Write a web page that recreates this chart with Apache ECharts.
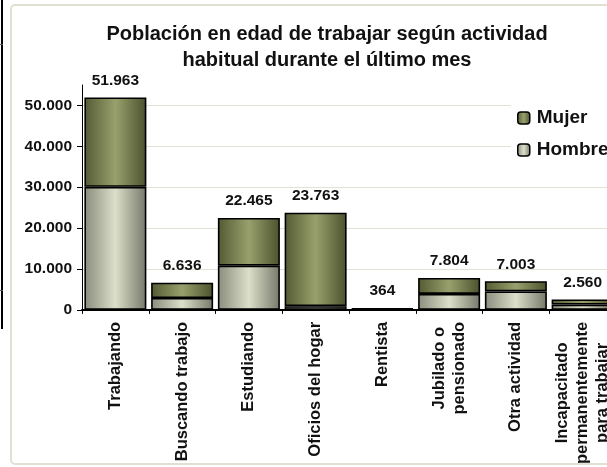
<!DOCTYPE html>
<html>
<head>
<meta charset="utf-8">
<script src="https://cdn.jsdelivr.net/npm/echarts@6/dist/echarts.min.js"></script>
<style>
  html, body { margin: 0; padding: 0; background: #ffffff; overflow: hidden; }
  /* the chart area runs on past the right edge of the page */
  #chart { width: 640px; height: 467px; }
</style>
</head>
<body>
<div id="chart"></div>
<script>
// Población en edad de trabajar, por actividad habitual y sexo
const categories = [
  'Trabajando',
  'Buscando trabajo',
  'Estudiando',
  'Oficios del hogar',
  'Rentista',
  'Jubilado o\npensionado',
  'Otra actividad',
  'Incapacitado\npermanentemente\npara trabajar'
];
const totals = [51963, 6636, 22465, 23763, 364, 7804, 7003, 2560];
const hombre = [30100, 2900, 10800, 900, 200, 3900, 4500, 1300];
const mujer  = [21863, 3736, 11665, 22863, 164, 3904, 2503, 1260];
const yTicks = [0, 10000, 20000, 30000, 40000, 50000];

const FONT = '"Liberation Sans", Arial, sans-serif';
const INK = '#111111';

function fmt(v) {
  return String(v).replace(/\B(?=(\d{3})+(?!\d))/g, '.');
}

function grad(stops) {
  return new echarts.graphic.LinearGradient(0, 0, 1, 0,
    stops.map(function (s) { return { offset: s[0], color: s[1] }; }));
}

const mujerFill = grad([[0, '#535a33'], [0.5, '#98a16d'], [1, '#4b512d']]);
const hombreFill = grad([[0, '#8a8c7d'], [0.5, '#dcdfc9'], [1, '#76786a']]);

const chart = echarts.init(document.getElementById('chart'), null, { renderer: 'canvas' });

chart.setOption({
  backgroundColor: '#ffffff',
  animation: false,
  title: {
    text: 'Población en edad de trabajar según actividad\nhabitual durante el último mes',
    left: 327,
    top: 21,
    textAlign: 'center',
    padding: 0,
    textStyle: {
      fontFamily: FONT,
      fontWeight: 'bold',
      fontSize: 20,
      lineHeight: 26,
      color: INK
    }
  },
  legend: {
    data: ['Mujer', 'Hombre'],
    orient: 'vertical',
    left: 511,
    top: 100,
    padding: [8, 6, 8, 6],
    itemGap: 12,
    itemWidth: 12,
    itemHeight: 12,
    backgroundColor: '#ffffff',
    selectedMode: false,
    itemStyle: { borderColor: '#000000', borderWidth: 1.5 },
    textStyle: {
      fontFamily: FONT,
      fontWeight: 'bold',
      fontSize: 19,
      lineHeight: 20,
      color: INK,
      padding: [0, 0, 0, 2]
    }
  },
  grid: {
    left: 82,
    top: 85,
    width: 534,
    height: 225,
    containLabel: false
  },
  xAxis: {
    type: 'category',
    data: categories,
    axisLine: { lineStyle: { color: '#000000', width: 2 } },
    axisTick: { show: true, length: 4, alignWithLabel: false, lineStyle: { color: '#000000' } },
    axisLabel: {
      interval: 0,
      rotate: 90,
      margin: 12,
      fontFamily: FONT,
      fontWeight: 'bold',
      fontSize: 16.5,
      lineHeight: 20,
      color: INK,
      formatter: function (v) {
        return v.split('\n').map(function (s) { return '{c|' + s + '}'; }).join('\n');
      },
      rich: {
        c: {
          align: 'center',
          fontFamily: FONT,
          fontWeight: 'bold',
          fontSize: 16.5,
          lineHeight: 20,
          color: INK
        }
      }
    },
    splitLine: { show: false }
  },
  yAxis: {
    type: 'value',
    min: 0,
    max: 55000,
    interval: 10000,
    axisLine: { show: true, lineStyle: { color: '#000000', width: 1 } },
    axisTick: { show: true, length: 5, inside: false, lineStyle: { color: '#000000' } },
    axisLabel: {
      showMaxLabel: false,
      margin: 10,
      fontFamily: FONT,
      fontWeight: 'bold',
      fontSize: 15.5,
      color: INK,
      formatter: function (v) { return yTicks.indexOf(v) >= 0 ? fmt(v) : ''; }
    },
    splitLine: {
      show: true,
      showMinLine: false,
      showMaxLine: false,
      lineStyle: { color: '#e2e2d4', width: 1 }
    }
  },
  series: [
    {
      name: 'Hombre',
      type: 'bar',
      stack: 'total',
      barWidth: 62,
      z: 3,
      data: hombre,
      itemStyle: { color: hombreFill, borderColor: '#000000', borderWidth: 1.6 },
      emphasis: { disabled: true }
    },
    {
      name: 'Mujer',
      type: 'bar',
      stack: 'total',
      barWidth: 62,
      z: 2,
      data: mujer,
      itemStyle: { color: mujerFill, borderColor: '#000000', borderWidth: 1.6 },
      emphasis: { disabled: true },
      label: {
        show: true,
        position: 'top',
        distance: 9,
        fontFamily: FONT,
        fontWeight: 'bold',
        fontSize: 15.5,
        color: INK,
        formatter: function (p) { return fmt(totals[p.dataIndex]); }
      }
    }
  ],
  graphic: [
    {
      type: 'rect',
      silent: true,
      z: -10,
      shape: { x: 11, y: 5, width: 640, height: 459, r: 4 },
      style: { fill: 'none', stroke: '#e0e0d3', lineWidth: 2 }
    },
    {
      type: 'rect',
      silent: true,
      shape: { x: 1, y: 0, width: 2, height: 329 },
      style: { fill: '#000000' }
    },
    {
      type: 'rect',
      silent: true,
      shape: { x: 0, y: 44, width: 3, height: 1 },
      style: { fill: '#555555' }
    },
    {
      type: 'rect',
      silent: true,
      shape: { x: 0, y: 290, width: 3, height: 1 },
      style: { fill: '#555555' }
    }
  ]
});
</script>
</body>
</html>
